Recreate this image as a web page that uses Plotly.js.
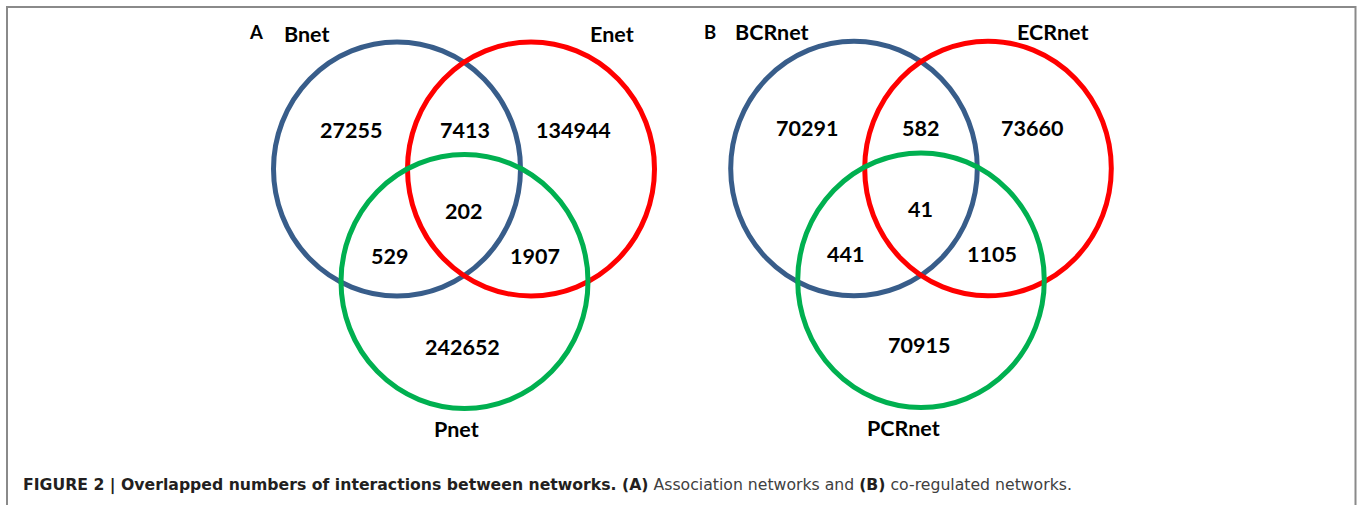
<!DOCTYPE html>
<html>
<head>
<meta charset="utf-8">
<script src="https://cdn.plot.ly/plotly-3.0.1.min.js"></script>
<style>
  html, body { margin: 0; padding: 0; background: #ffffff; }
  #chart { width: 1358px; height: 505px; }
</style>
</head>
<body>
<div id="chart"></div>
<script>
// ---------------- DATA ----------------
// Region order: only-1, 1&2, only-2, 1&2&3, 1&3, 2&3, only-3
const regionKeys = ['only1', 'set12', 'only2', 'set123', 'set13', 'set23', 'only3'];

// Panel A: association networks
const panelALetter = 'A';
const setNamesA = ['Bnet', 'Enet', 'Pnet'];
const countsA = [27255, 7413, 134944, 202, 529, 1907, 242652];

// Panel B: co-regulated networks
const panelBLetter = 'B';
const setNamesB = ['BCRnet', 'ECRnet', 'PCRnet'];
const countsB = [70291, 582, 73660, 41, 441, 1105, 70915];

const captionBold = 'FIGURE 2 | Overlapped numbers of interactions between networks. (A)';
const captionRest1 = ' Association networks and ';
const captionBoldB = '(B)';
const captionRest2 = ' co-regulated networks.';

// ---------------- LAYOUT / STYLE (positions in pixel space) ----------------
const setColors = ['#385D8A', '#FF0000', '#00B050'];
const geometry = {
  A: {
    circles: [[397, 169], [531, 169], [464.5, 281.5]],
    rx: 123.5, ry: 127,
    regionPos: [[350.5, 130], [464.5, 130], [573.5, 130], [463.5, 210.5], [389, 255.5], [535, 255.5], [462.5, 347]],
    setLabelPos: [[306.5, 33.5], [612, 33.5], [456, 429]],
    letterPos: [255.5, 31.5]
  },
  B: {
    circles: [[854, 168.5], [988, 168.5], [921, 280.3]],
    rx: 123.3, ry: 127.3,
    regionPos: [[807, 128], [920.3, 128], [1031.7, 128], [920, 208.5], [845.7, 253.5], [991.7, 253.5], [919.2, 345]],
    setLabelPos: [[772, 31.5], [1052, 31.5], [903, 428]],
    letterPos: [709.5, 31.5]
  }
};
const numFont = { family: 'Lato, "Open Sans", sans-serif', size: 21.5, color: '#000000', weight: 700 };
const letterFont = { family: 'Lato, "Open Sans", sans-serif', size: 18.5, color: '#000000', weight: 700 };

const shapes = [];
const annotations = [];

function addPanel(g, names, counts, letter) {
  g.circles.forEach(function (c, i) {
    shapes.push({
      type: 'circle', xref: 'x', yref: 'y',
      x0: c[0] - g.rx, x1: c[0] + g.rx, y0: c[1] - g.ry, y1: c[1] + g.ry,
      line: { color: setColors[i], width: 5 }, fillcolor: 'rgba(0,0,0,0)'
    });
  });
  counts.forEach(function (v, i) {
    annotations.push({
      x: g.regionPos[i][0], y: g.regionPos[i][1], xref: 'x', yref: 'y',
      text: '<b>' + String(v) + '</b>', showarrow: false,
      xanchor: 'center', yanchor: 'middle', font: numFont
    });
  });
  names.forEach(function (n, i) {
    annotations.push({
      x: g.setLabelPos[i][0], y: g.setLabelPos[i][1], xref: 'x', yref: 'y',
      text: '<b>' + n + '</b>', showarrow: false,
      xanchor: 'center', yanchor: 'middle', font: numFont
    });
  });
  annotations.push({
    x: g.letterPos[0], y: g.letterPos[1], xref: 'x', yref: 'y',
    text: '<b>' + letter + '</b>', showarrow: false,
    xanchor: 'center', yanchor: 'middle', font: letterFont
  });
}

addPanel(geometry.A, setNamesA, countsA, panelALetter);
addPanel(geometry.B, setNamesB, countsB, panelBLetter);

// Outer frame
shapes.push({
  type: 'rect', xref: 'x', yref: 'y', x0: 7, x1: 1355.5, y0: 7, y1: 540,
  line: { color: '#8a8a8a', width: 2 }, fillcolor: 'rgba(0,0,0,0)', layer: 'below'
});

// Caption
annotations.push({
  x: 21, y: 485, xref: 'x', yref: 'y',
  text: '<b><span style="color:#231f20">' + captionBold + '</span></b>' +
        '<span style="color:#404040">' + captionRest1 + '</span>' +
        '<b><span style="color:#231f20">' + captionBoldB + '</span></b>' +
        '<span style="color:#404040">' + captionRest2 + '</span>',
  showarrow: false, xanchor: 'left', yanchor: 'middle',
  font: { family: '"DejaVu Sans", "Liberation Sans", sans-serif', size: 15.7, color: '#333333' }
});

const layout = {
  width: 1358, height: 505,
  margin: { l: 0, r: 0, t: 0, b: 0, pad: 0 },
  paper_bgcolor: '#ffffff', plot_bgcolor: '#ffffff',
  showlegend: false,
  xaxis: { range: [0, 1358], visible: false, fixedrange: true },
  yaxis: { range: [505, 0], visible: false, fixedrange: true },
  shapes: shapes,
  annotations: annotations
};

Plotly.newPlot('chart', [], layout, { staticPlot: true, displayModeBar: false });
</script>
</body>
</html>
